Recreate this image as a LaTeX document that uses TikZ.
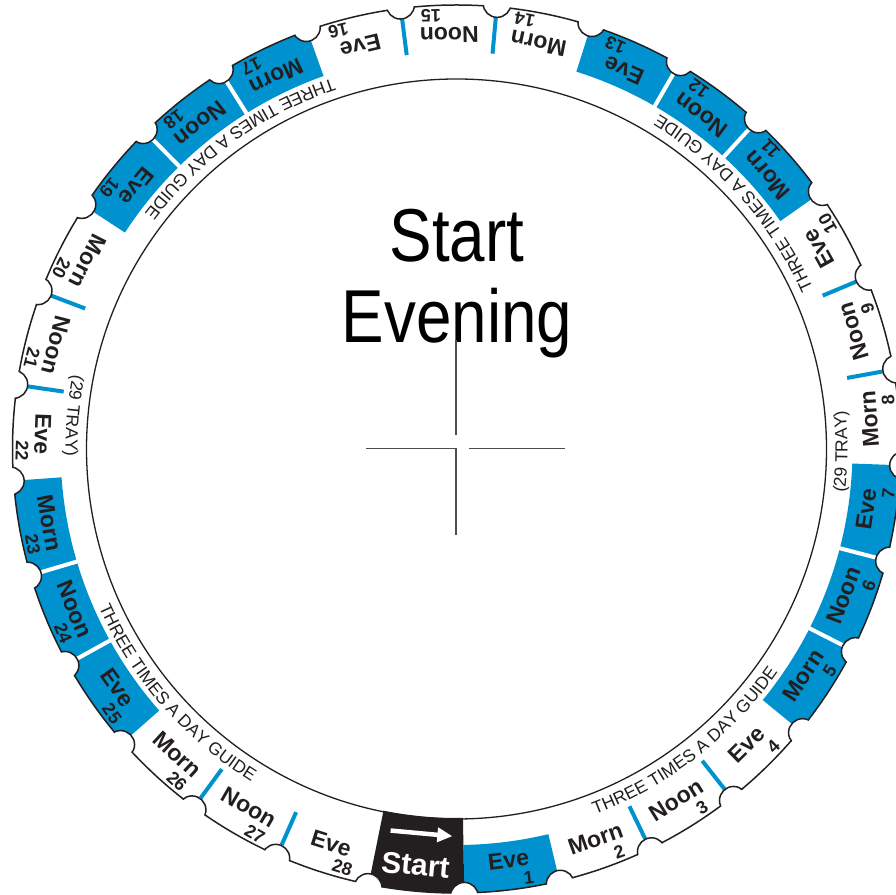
\documentclass[tikz,border=0pt]{standalone}
\usepackage{fontspec}
\setmainfont{Liberation Sans}
\usetikzlibrary{decorations.text,arrows.meta}
\definecolor{dialblue}{HTML}{0092CE}
\definecolor{ink}{HTML}{231F20}
\definecolor{crossgray}{HTML}{4D4D4D}
\newcommand\arcfont{\fontsize{17.5}{20}\selectfont}
\newcommand\arctext[2]{\path[decorate,decoration={text along path,text align=center,text color=ink,text={|\arcfont|#2}}] (#1-30:391) arc[start angle=#1-30,end angle=#1+30,radius=391];}
\begin{document}
\begin{tikzpicture}[x=1pt,y=1pt,
  lab/.style={font=\fontsize{23}{24}\selectfont\bfseries, text=ink, inner sep=0pt, transform shape},
  num/.style={font=\fontsize{18}{20}\selectfont\bfseries, text=ink, inner sep=0pt, transform shape},
  ring/.style={ink, line width=1.5pt},
  cross/.style={crossgray, line width=1.3pt}]
\useasboundingbox (0,0) rectangle (896,894);
\fill[white] (0,0) rectangle (896,894);
\begin{scope}[shift={(456.5,445)}]
  % coloured fills, clipped to the dial
  \begin{scope}
    \clip (0,0) circle (444);
    \foreach \k in {1,5,6,7,11,12,13,17,18,19,23,24,25} {
      \pgfmathsetmacro\a{-89+(\k-1)*12.41379}
      \pgfmathsetmacro\b{\a+12.41379}
      \fill[dialblue] (\a:396) arc[start angle=\a,end angle=\b,radius=396] -- (\b:450) arc[start angle=\b,end angle=\a,radius=450] -- cycle;
    }
    \fill[ink] (-101.41379:369) arc[start angle=-101.41379,end angle=-89,radius=369] -- (-89:450) arc[start angle=-89,end angle=-101.41379,radius=450] -- cycle;
    \foreach \j in {6,7,12,13,18,19,24,25} {
      \pgfmathsetmacro\a{-89+(\j-1)*12.41379}
      \draw[white,line width=4pt] (\a:394) -- (\a:450);
    }
    \foreach \j in {3,4,9,10,15,16,21,22,27,28} {
      \pgfmathsetmacro\a{-89+(\j-1)*12.41379}
      \draw[dialblue,line width=4pt] (\a:397) -- (\a:433);
    }
  \end{scope}
  % outline with notches
  \draw[ring] (0,0) circle (444);
  \foreach \j in {0,...,28} {
    \pgfmathsetmacro\a{-89+(\j-1)*12.41379}
    \fill[white] (\a:447.5) circle (14);
  }
  \begin{scope}
    \clip (0,0) circle (444.75);
    \foreach \j in {0,...,28} {
      \pgfmathsetmacro\a{-89+(\j-1)*12.41379}
      \draw[ring] (\a:447.5) circle (14);
    }
  \end{scope}
  \draw[ink,line width=1.3pt] (0,0) circle (370);
  % segment labels
  \foreach \k in {1,...,28} {
    \pgfmathsetmacro\m{-89+(\k-0.5)*12.41379}
    \pgfmathtruncatemacro\r{mod(\k,3)}
    \ifcase\r\def\lbl{Noon}\or\def\lbl{Eve}\or\def\lbl{Morn}\fi
    \begin{scope}[rotate=\m+90]
      \node[lab] (w\k) at (0,-414) {\lbl};
      \node[num] (n\k) at (18,-434) {\k};
    \end{scope}
  }
  % start segment
  \begin{scope}[rotate=-5.207]
    \node[font=\fontsize{30}{32}\selectfont\bfseries, text=white, inner sep=0pt, transform shape] (start) at (-3,-418) {Start};
    \coordinate (arrA) at (-31,-386);
    \coordinate (arrB) at (31,-386);
    \draw[white,line width=4.5pt,-{Triangle[length=15pt,width=14pt]}] (arrA) -- (arrB);
  \end{scope}
  % guide texts along the inner band
  \arctext{-52}{THREE TIMES A DAY GUIDE}
  \arctext{41.5}{THREE TIMES A DAY GUIDE}
  \arctext{125.7}{THREE TIMES A DAY GUIDE}
  \arctext{221.1}{THREE TIMES A DAY GUIDE}
  \arctext{-0.4}{(29 TRAY)}
  \arctext{175.05}{(29 TRAY)}
\end{scope}
% central title
\node[font=\fontsize{75}{80}\selectfont, xscale=0.85, anchor=base, inner sep=0pt] (t1) at (457,632) {Start};
\node[font=\fontsize{75}{80}\selectfont, xscale=0.85, anchor=base, inner sep=0pt] (t2) at (457,551) {Evening};
% crosshair
\coordinate (cc) at (456,445.7);
\coordinate (ct1) at (456,459);
\coordinate (ct2) at (456,554);
\coordinate (cb) at (456,359);
\coordinate (cl) at (366,445.7);
\coordinate (cr1) at (469,445.7);
\coordinate (cr2) at (565,445.7);
\draw[cross] (ct1) -- (ct2);
\draw[cross] (cb) -- (cc) -- (cl);
\draw[cross] (cr1) -- (cr2);
\end{tikzpicture}
\end{document}
